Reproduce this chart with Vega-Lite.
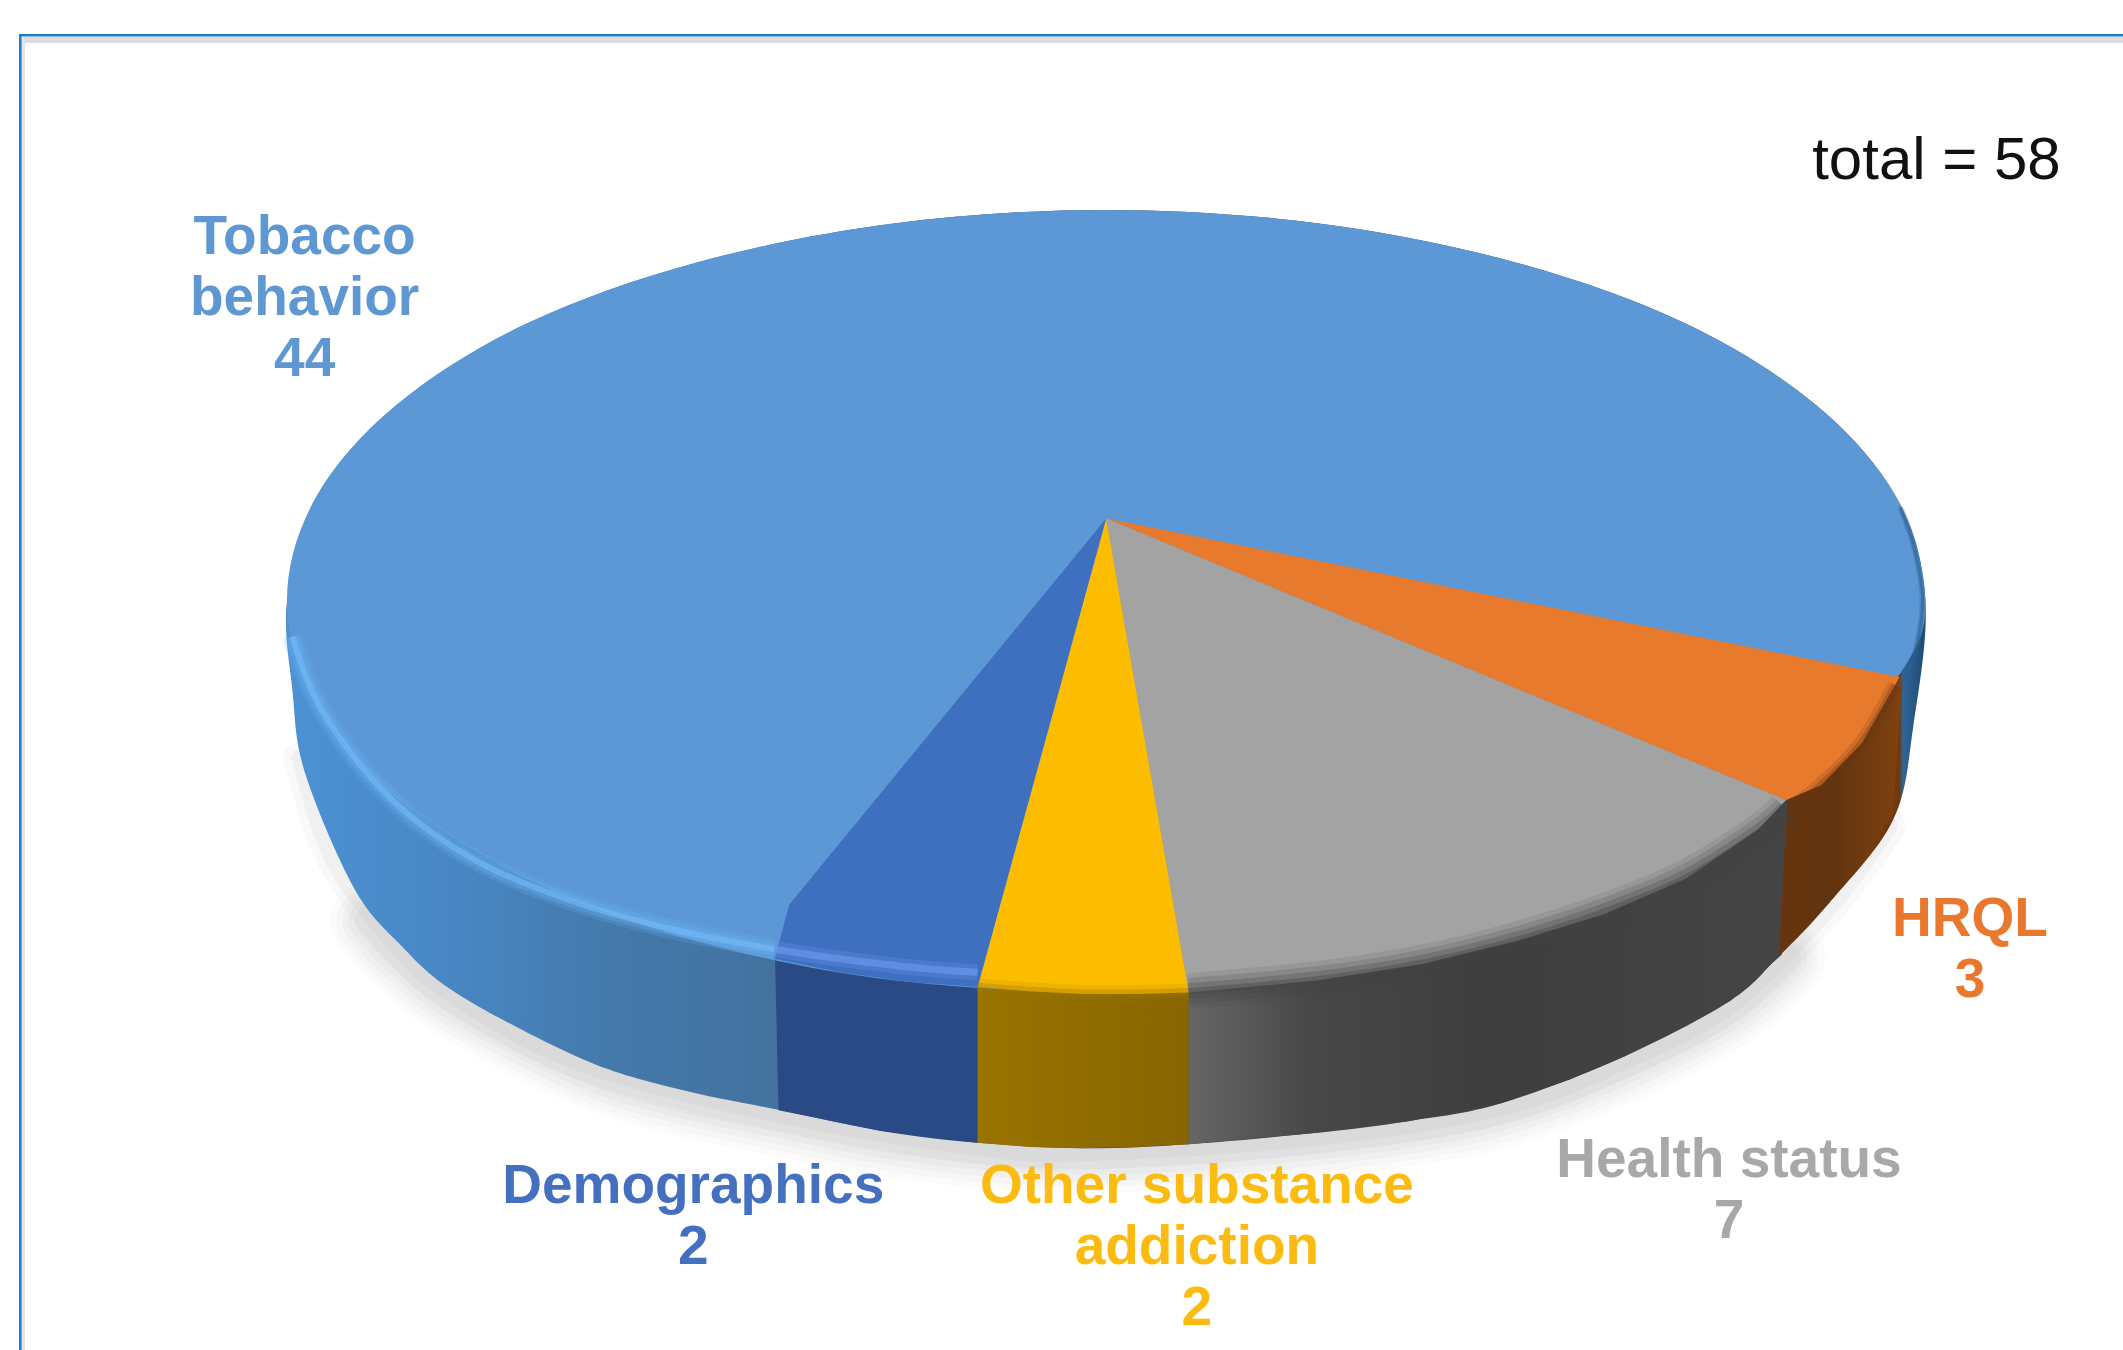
{
  "$schema": "https://vega.github.io/schema/vega-lite/v6.json",
  "width": 2123,
  "height": 1350,
  "autosize": {"type": "none"},
  "padding": 0,
  "background": "#ffffff",
  "view": {"stroke": null},
  "datasets": {
    "outlines": [
      {"shape":"frameTop","i":0,"x":17,"y":29.5},{"shape":"frameTop","i":1,"x":1568,"y":29.5},
      {"shape":"frameLeft","i":0,"x":17,"y":29},{"shape":"frameLeft","i":1,"x":17,"y":997},
      {"shape":"frame","i":0,"x":15,"y":997},{"shape":"frame","i":1,"x":15,"y":26},{"shape":"frame","i":2,"x":1568,"y":26},

      {"shape":"shadow","i":0,"x":272,"y":680},{"shape":"shadow","i":1,"x":295,"y":705},{"shape":"shadow","i":2,"x":338,"y":740},{"shape":"shadow","i":3,"x":430,"y":788},{"shape":"shadow","i":4,"x":500,"y":810},{"shape":"shadow","i":5,"x":577,"y":826},{"shape":"shadow","i":6,"x":650,"y":840},{"shape":"shadow","i":7,"x":722,"y":849},{"shape":"shadow","i":8,"x":800,"y":853},{"shape":"shadow","i":9,"x":878,"y":850},{"shape":"shadow","i":10,"x":969,"y":842},{"shape":"shadow","i":11,"x":1040,"y":833},{"shape":"shadow","i":12,"x":1108,"y":820},{"shape":"shadow","i":13,"x":1200,"y":786},{"shape":"shadow","i":14,"x":1278,"y":745},{"shape":"shadow","i":15,"x":1320,"y":708},

      {"shape":"shadowSide","i":0,"x":222,"y":560},{"shape":"shadowSide","i":1,"x":240,"y":620},{"shape":"shadowSide","i":2,"x":261,"y":658},{"shape":"shadowSide","i":3,"x":295,"y":700},{"shape":"shadowSide","i":4,"x":338,"y":737},{"shape":"shadowSide","i":5,"x":430,"y":785},{"shape":"shadowSide","i":6,"x":577,"y":823},{"shape":"shadowSide","i":7,"x":722,"y":847},{"shape":"shadowSide","i":8,"x":800,"y":851},{"shape":"shadowSide","i":9,"x":969,"y":840},{"shape":"shadowSide","i":10,"x":1108,"y":818},{"shape":"shadowSide","i":11,"x":1200,"y":783},{"shape":"shadowSide","i":12,"x":1278,"y":742},{"shape":"shadowSide","i":13,"x":1350,"y":671},{"shape":"shadowSide","i":14,"x":1395,"y":610},

      {"shape":"body","i":0,"x":1422,"y":443},{"shape":"body","i":1,"x":1401,"y":368},{"shape":"body","i":2,"x":1341,"y":299},{"shape":"body","i":3,"x":1245,"y":239},{"shape":"body","i":4,"x":1120,"y":194},{"shape":"body","i":5,"x":974,"y":165},{"shape":"body","i":6,"x":817,"y":155},{"shape":"body","i":7,"x":660,"y":165},{"shape":"body","i":8,"x":514,"y":194},{"shape":"body","i":9,"x":389,"y":239},{"shape":"body","i":10,"x":293,"y":299},{"shape":"body","i":11,"x":233,"y":368},{"shape":"body","i":12,"x":212,"y":443},{"shape":"body","i":13,"x":216,"y":510},{"shape":"body","i":14,"x":225,"y":570},{"shape":"body","i":15,"x":261,"y":655},{"shape":"body","i":16,"x":295,"y":697},{"shape":"body","i":17,"x":338,"y":734},{"shape":"body","i":18,"x":430,"y":782},{"shape":"body","i":19,"x":500,"y":804},{"shape":"body","i":20,"x":577,"y":820},{"shape":"body","i":21,"x":650,"y":835},{"shape":"body","i":22,"x":722,"y":844},{"shape":"body","i":23,"x":800,"y":848},{"shape":"body","i":24,"x":878,"y":845},{"shape":"body","i":25,"x":969,"y":837},{"shape":"body","i":26,"x":1040,"y":828},{"shape":"body","i":27,"x":1108,"y":815},{"shape":"body","i":28,"x":1200,"y":780},{"shape":"body","i":29,"x":1278,"y":739},{"shape":"body","i":30,"x":1313,"y":707},{"shape":"body","i":31,"x":1350,"y":668},{"shape":"body","i":32,"x":1398,"y":606},{"shape":"body","i":33,"x":1413,"y":537},

      {"shape":"wallDemographics","i":0,"x":572,"y":690},{"shape":"wallDemographics","i":1,"x":575,"y":820},{"shape":"wallDemographics","i":2,"x":650,"y":835},{"shape":"wallDemographics","i":3,"x":722,"y":844},{"shape":"wallDemographics","i":4,"x":722,"y":700},
      {"shape":"wallOther","i":0,"x":722,"y":700},{"shape":"wallOther","i":1,"x":722,"y":844},{"shape":"wallOther","i":2,"x":760,"y":847},{"shape":"wallOther","i":3,"x":800,"y":848},{"shape":"wallOther","i":4,"x":840,"y":847},{"shape":"wallOther","i":5,"x":878,"y":845},{"shape":"wallOther","i":6,"x":878,"y":700},
      {"shape":"wallHealth","i":0,"x":878,"y":700},{"shape":"wallHealth","i":1,"x":878,"y":845},{"shape":"wallHealth","i":2,"x":969,"y":837},{"shape":"wallHealth","i":3,"x":1040,"y":828},{"shape":"wallHealth","i":4,"x":1108,"y":815},{"shape":"wallHealth","i":5,"x":1160,"y":797},{"shape":"wallHealth","i":6,"x":1200,"y":780},{"shape":"wallHealth","i":7,"x":1240,"y":760},{"shape":"wallHealth","i":8,"x":1278,"y":739},{"shape":"wallHealth","i":9,"x":1316,"y":705},{"shape":"wallHealth","i":10,"x":1320,"y":590},{"shape":"wallHealth","i":11,"x":1200,"y":600},
      {"shape":"wallHRQL","i":0,"x":1320,"y":590},{"shape":"wallHRQL","i":1,"x":1314,"y":706},{"shape":"wallHRQL","i":2,"x":1350,"y":668},{"shape":"wallHRQL","i":3,"x":1380,"y":632},{"shape":"wallHRQL","i":4,"x":1398,"y":600},{"shape":"wallHRQL","i":5,"x":1405,"y":502},{"shape":"wallHRQL","i":6,"x":1300,"y":500},

      {"shape":"disc","i":0,"x":1422,"y":443},{"shape":"disc","i":1,"x":1401,"y":368},{"shape":"disc","i":2,"x":1341,"y":299},{"shape":"disc","i":3,"x":1245,"y":239},{"shape":"disc","i":4,"x":1120,"y":194},{"shape":"disc","i":5,"x":974,"y":165},{"shape":"disc","i":6,"x":817,"y":155},{"shape":"disc","i":7,"x":660,"y":165},{"shape":"disc","i":8,"x":514,"y":194},{"shape":"disc","i":9,"x":389,"y":239},{"shape":"disc","i":10,"x":293,"y":299},{"shape":"disc","i":11,"x":233,"y":368},{"shape":"disc","i":12,"x":212,"y":443},{"shape":"disc","i":13,"x":233,"y":518},{"shape":"disc","i":14,"x":293,"y":589},{"shape":"disc","i":15,"x":389,"y":649},{"shape":"disc","i":16,"x":514,"y":695},{"shape":"disc","i":17,"x":660,"y":724},{"shape":"disc","i":18,"x":817,"y":732},{"shape":"disc","i":19,"x":974,"y":720},{"shape":"disc","i":20,"x":1120,"y":690},{"shape":"disc","i":21,"x":1245,"y":640},{"shape":"disc","i":22,"x":1341,"y":570},{"shape":"disc","i":23,"x":1405,"y":495},

      {"shape":"rimBlue","i":0,"x":216,"y":470},{"shape":"rimBlue","i":1,"x":228,"y":505},{"shape":"rimBlue","i":2,"x":244,"y":535},{"shape":"rimBlue","i":3,"x":272,"y":572},{"shape":"rimBlue","i":4,"x":307,"y":606},{"shape":"rimBlue","i":5,"x":360,"y":640},{"shape":"rimBlue","i":6,"x":430,"y":668},{"shape":"rimBlue","i":7,"x":500,"y":687},{"shape":"rimBlue","i":8,"x":572,"y":701},
      {"shape":"rimDemographics","i":0,"x":572,"y":701},{"shape":"rimDemographics","i":1,"x":620,"y":708},{"shape":"rimDemographics","i":2,"x":680,"y":715},{"shape":"rimDemographics","i":3,"x":722,"y":718},
      {"shape":"rimOther","i":0,"x":722,"y":729},{"shape":"rimOther","i":1,"x":760,"y":732},{"shape":"rimOther","i":2,"x":800,"y":734},{"shape":"rimOther","i":3,"x":840,"y":734},{"shape":"rimOther","i":4,"x":878,"y":733},
      {"shape":"rimHealth","i":0,"x":878,"y":732},{"shape":"rimHealth","i":1,"x":974,"y":723},{"shape":"rimHealth","i":2,"x":1050,"y":711},{"shape":"rimHealth","i":3,"x":1120,"y":694},{"shape":"rimHealth","i":4,"x":1185,"y":673},{"shape":"rimHealth","i":5,"x":1245,"y":648},{"shape":"rimHealth","i":6,"x":1298,"y":615},{"shape":"rimHealth","i":7,"x":1319,"y":597},
      {"shape":"rimHRQL","i":0,"x":1322,"y":597},{"shape":"rimHRQL","i":1,"x":1345,"y":580},{"shape":"rimHRQL","i":2,"x":1375,"y":549},{"shape":"rimHRQL","i":3,"x":1400,"y":506},
      {"shape":"edge","i":0,"x":1404,"y":376},{"shape":"edge","i":1,"x":1414,"y":405},{"shape":"edge","i":2,"x":1420,"y":443},{"shape":"edge","i":3,"x":1415,"y":480},{"shape":"edge","i":4,"x":1406,"y":503}
    ],
    "slices": [
      {"category":"HRQL","value":3,"i":0,"x":817,"y":383},{"category":"HRQL","value":3,"i":1,"x":1403,"y":500},{"category":"HRQL","value":3,"i":2,"x":1375,"y":549},{"category":"HRQL","value":3,"i":3,"x":1345,"y":580},{"category":"HRQL","value":3,"i":4,"x":1319,"y":591},
      {"category":"Health status","value":7,"i":0,"x":817,"y":383},{"category":"Health status","value":7,"i":1,"x":1319,"y":591},{"category":"Health status","value":7,"i":2,"x":1298,"y":613},{"category":"Health status","value":7,"i":3,"x":1245,"y":649},{"category":"Health status","value":7,"i":4,"x":1185,"y":675},{"category":"Health status","value":7,"i":5,"x":1120,"y":695},{"category":"Health status","value":7,"i":6,"x":1050,"y":712},{"category":"Health status","value":7,"i":7,"x":974,"y":724},{"category":"Health status","value":7,"i":8,"x":878,"y":733},
      {"category":"Other substance addiction","value":2,"i":0,"x":817,"y":383},{"category":"Other substance addiction","value":2,"i":1,"x":878,"y":733},{"category":"Other substance addiction","value":2,"i":2,"x":840,"y":734},{"category":"Other substance addiction","value":2,"i":3,"x":800,"y":734},{"category":"Other substance addiction","value":2,"i":4,"x":760,"y":732},{"category":"Other substance addiction","value":2,"i":5,"x":722,"y":729},
      {"category":"Demographics","value":2,"i":0,"x":817,"y":383},{"category":"Demographics","value":2,"i":1,"x":722,"y":729},{"category":"Demographics","value":2,"i":2,"x":670,"y":725},{"category":"Demographics","value":2,"i":3,"x":620,"y":718},{"category":"Demographics","value":2,"i":4,"x":572,"y":708},{"category":"Demographics","value":2,"i":5,"x":583,"y":668}
    ],
    "labels": [
      {"category":"Tobacco behavior","value":44,"label":"Tobacco\nbehavior\n44","x":225,"y":175,"color":"#5f97d2"},
      {"category":"Demographics","value":2,"label":"Demographics\n2","x":512,"y":876,"color":"#4570bf"},
      {"category":"Other substance addiction","value":2,"label":"Other substance\naddiction\n2","x":884,"y":876,"color":"#fbbb10"},
      {"category":"Health status","value":7,"label":"Health status\n7","x":1277,"y":857,"color":"#a8a8a8"},
      {"category":"HRQL","value":3,"label":"HRQL\n3","x":1455,"y":679,"color":"#e8782e"}
    ],
    "total": [
      {"label":"total = 58","x":1522,"y":119}
    ]
  },
  "encoding": {
    "x": {"field":"x","type":"quantitative","scale":{"domain":[0,1568],"nice":false,"zero":false},"axis":null},
    "y": {"field":"y","type":"quantitative","scale":{"domain":[997,0],"nice":false,"zero":false},"axis":null},
    "order": {"field":"i","type":"quantitative"}
  },
  "layer": [
    {"data":{"name":"outlines"},"transform":[{"filter":"datum.shape==='frameTop'"}],"mark":{"type":"line","stroke":"#dcdcdc","strokeWidth":6}},
    {"data":{"name":"outlines"},"transform":[{"filter":"datum.shape==='frameLeft'"}],"mark":{"type":"line","stroke":"#e4e4e4","strokeWidth":4}},
    {"data":{"name":"outlines"},"transform":[{"filter":"datum.shape==='frame'"}],"mark":{"type":"line","stroke":"#1a7bcf","strokeWidth":2.5}},

    {"data":{"name":"outlines"},"transform":[{"filter":"datum.shape==='shadow'"}],"mark":{"type":"line","stroke":"#b4b4b4","strokeWidth":76,"opacity":0.05,"strokeCap":"round","interpolate":"cardinal"}},
    {"data":{"name":"outlines"},"transform":[{"filter":"datum.shape==='shadow'"}],"mark":{"type":"line","stroke":"#b4b4b4","strokeWidth":64,"opacity":0.07,"strokeCap":"round","interpolate":"cardinal"}},
    {"data":{"name":"outlines"},"transform":[{"filter":"datum.shape==='shadow'"}],"mark":{"type":"line","stroke":"#b4b4b4","strokeWidth":52,"opacity":0.08,"strokeCap":"round","interpolate":"cardinal"}},
    {"data":{"name":"outlines"},"transform":[{"filter":"datum.shape==='shadow'"}],"mark":{"type":"line","stroke":"#b4b4b4","strokeWidth":40,"opacity":0.09,"strokeCap":"round","interpolate":"cardinal"}},
    {"data":{"name":"outlines"},"transform":[{"filter":"datum.shape==='shadow'"}],"mark":{"type":"line","stroke":"#b4b4b4","strokeWidth":28,"opacity":0.1,"strokeCap":"round","interpolate":"cardinal"}},
    {"data":{"name":"outlines"},"transform":[{"filter":"datum.shape==='shadowSide'"}],"mark":{"type":"line","stroke":"#b4b4b4","strokeWidth":34,"opacity":0.08,"strokeCap":"round","interpolate":"cardinal"}},
    {"data":{"name":"outlines"},"transform":[{"filter":"datum.shape==='shadowSide'"}],"mark":{"type":"line","stroke":"#b4b4b4","strokeWidth":18,"opacity":0.12,"strokeCap":"round","interpolate":"cardinal"}},

    {"data":{"name":"outlines"},"transform":[{"filter":"datum.shape==='body'"}],
     "mark":{"type":"line","filled":true,"stroke":null,"interpolate":"cardinal-closed",
       "fill":{"gradient":"linear","x1":0,"y1":0,"x2":1,"y2":0,"stops":[
         {"offset":0,"color":"#4c92d4"},{"offset":0.1,"color":"#4887c4"},{"offset":0.2,"color":"#4479ab"},{"offset":0.3,"color":"#43729f"},{"offset":0.305,"color":"#2a4a85"},{"offset":0.42,"color":"#2a4a85"},{"offset":0.55,"color":"#444444"},{"offset":0.915,"color":"#444444"},{"offset":0.92,"color":"#66350f"},{"offset":0.984,"color":"#6f3a10"},{"offset":0.986,"color":"#2f6596"},{"offset":1,"color":"#1f4a72"}]}}},

    {"data":{"name":"outlines"},"transform":[{"filter":"datum.shape==='wallDemographics'"}],"mark":{"type":"line","filled":true,"stroke":null,"fill":"#2a4a85"}},
    {"data":{"name":"outlines"},"transform":[{"filter":"datum.shape==='wallOther'"}],
     "mark":{"type":"line","filled":true,"stroke":null,
       "fill":{"gradient":"linear","x1":0,"y1":0,"x2":1,"y2":0,"stops":[{"offset":0,"color":"#9a7400"},{"offset":1,"color":"#876500"}]}}},
    {"data":{"name":"outlines"},"transform":[{"filter":"datum.shape==='wallHealth'"}],
     "mark":{"type":"line","filled":true,"stroke":null,
       "fill":{"gradient":"linear","x1":0,"y1":0,"x2":1,"y2":0,"stops":[{"offset":0,"color":"#666666"},{"offset":0.2,"color":"#484848"},{"offset":0.5,"color":"#3e3e3e"},{"offset":1,"color":"#454545"}]}}},
    {"data":{"name":"outlines"},"transform":[{"filter":"datum.shape==='wallHRQL'"}],
     "mark":{"type":"line","filled":true,"stroke":null,
       "fill":{"gradient":"linear","x1":0,"y1":0,"x2":1,"y2":0,"stops":[{"offset":0,"color":"#66350f"},{"offset":0.5,"color":"#633410"},{"offset":1,"color":"#80420f"}]}}},

    {"data":{"name":"outlines"},"transform":[{"filter":"datum.shape==='disc'"}],"mark":{"type":"line","filled":true,"stroke":null,"fill":"#5b98d5","interpolate":"cardinal-closed"}},

    {"data":{"name":"slices"},
     "mark":{"type":"line","filled":true,"stroke":null},
     "encoding":{"fill":{"field":"category","type":"nominal","legend":null,
       "scale":{"domain":["HRQL","Health status","Other substance addiction","Demographics"],"range":["#e87a2e","#a3a3a3","#fcbc00","#3f70c0"]}}}},

    {"data":{"name":"outlines"},"transform":[{"filter":"datum.shape==='rimBlue'"}],"mark":{"type":"line","stroke":"#6db4f5","strokeWidth":20,"opacity":0.2,"interpolate":"cardinal"}},
    {"data":{"name":"outlines"},"transform":[{"filter":"datum.shape==='rimBlue'"}],"mark":{"type":"line","stroke":"#6db4f5","strokeWidth":13,"opacity":0.3,"interpolate":"cardinal"}},
    {"data":{"name":"outlines"},"transform":[{"filter":"datum.shape==='rimBlue'"}],"mark":{"type":"line","stroke":"#74bbfa","strokeWidth":6,"opacity":0.6,"interpolate":"cardinal"}},
    {"data":{"name":"outlines"},"transform":[{"filter":"datum.shape==='rimDemographics'"}],"mark":{"type":"line","stroke":"#6a96ea","strokeWidth":16,"opacity":0.25,"interpolate":"cardinal"}},
    {"data":{"name":"outlines"},"transform":[{"filter":"datum.shape==='rimDemographics'"}],"mark":{"type":"line","stroke":"#6a96ea","strokeWidth":7,"opacity":0.7,"interpolate":"cardinal"}},

    {"data":{"name":"outlines"},"transform":[{"filter":"datum.shape==='rimOther'"}],"mark":{"type":"line","stroke":"#9a7400","strokeWidth":18,"opacity":0.15,"interpolate":"cardinal"}},
    {"data":{"name":"outlines"},"transform":[{"filter":"datum.shape==='rimOther'"}],"mark":{"type":"line","stroke":"#9a7400","strokeWidth":9,"opacity":0.3,"interpolate":"cardinal"}},
    {"data":{"name":"outlines"},"transform":[{"filter":"datum.shape==='rimHealth'"}],"mark":{"type":"line","stroke":"#454545","strokeWidth":36,"opacity":0.12,"interpolate":"cardinal"}},
    {"data":{"name":"outlines"},"transform":[{"filter":"datum.shape==='rimHealth'"}],"mark":{"type":"line","stroke":"#454545","strokeWidth":26,"opacity":0.18,"interpolate":"cardinal"}},
    {"data":{"name":"outlines"},"transform":[{"filter":"datum.shape==='rimHealth'"}],"mark":{"type":"line","stroke":"#454545","strokeWidth":16,"opacity":0.28,"interpolate":"cardinal"}},
    {"data":{"name":"outlines"},"transform":[{"filter":"datum.shape==='rimHealth'"}],"mark":{"type":"line","stroke":"#454545","strokeWidth":6,"opacity":0.4,"interpolate":"cardinal"}},
    {"data":{"name":"outlines"},"transform":[{"filter":"datum.shape==='rimHRQL'"}],"mark":{"type":"line","stroke":"#66350f","strokeWidth":16,"opacity":0.18,"interpolate":"cardinal"}},
    {"data":{"name":"outlines"},"transform":[{"filter":"datum.shape==='rimHRQL'"}],"mark":{"type":"line","stroke":"#66350f","strokeWidth":8,"opacity":0.3,"interpolate":"cardinal"}},
    {"data":{"name":"outlines"},"transform":[{"filter":"datum.shape==='edge'"}],"mark":{"type":"line","stroke":"#2d5f92","strokeWidth":6,"opacity":0.3,"strokeCap":"round","interpolate":"cardinal"}},
    {"data":{"name":"outlines"},"transform":[{"filter":"datum.shape==='edge'"}],"mark":{"type":"line","stroke":"#2d5f92","strokeWidth":3,"opacity":0.55,"strokeCap":"round","interpolate":"cardinal"}},

    {"data":{"name":"labels"},
     "mark":{"type":"text","font":"Liberation Sans","fontWeight":"bold","fontSize":55,"lineHeight":61,"lineBreak":"\n","align":"center","baseline":"middle"},
     "encoding":{"text":{"field":"label"},"color":{"field":"color","type":"nominal","scale":null}}},
    {"data":{"name":"total"},
     "mark":{"type":"text","font":"Liberation Sans","fontSize":60,"align":"right","baseline":"middle","fill":"#111111"},
     "encoding":{"text":{"field":"label"}}}
  ]
}
